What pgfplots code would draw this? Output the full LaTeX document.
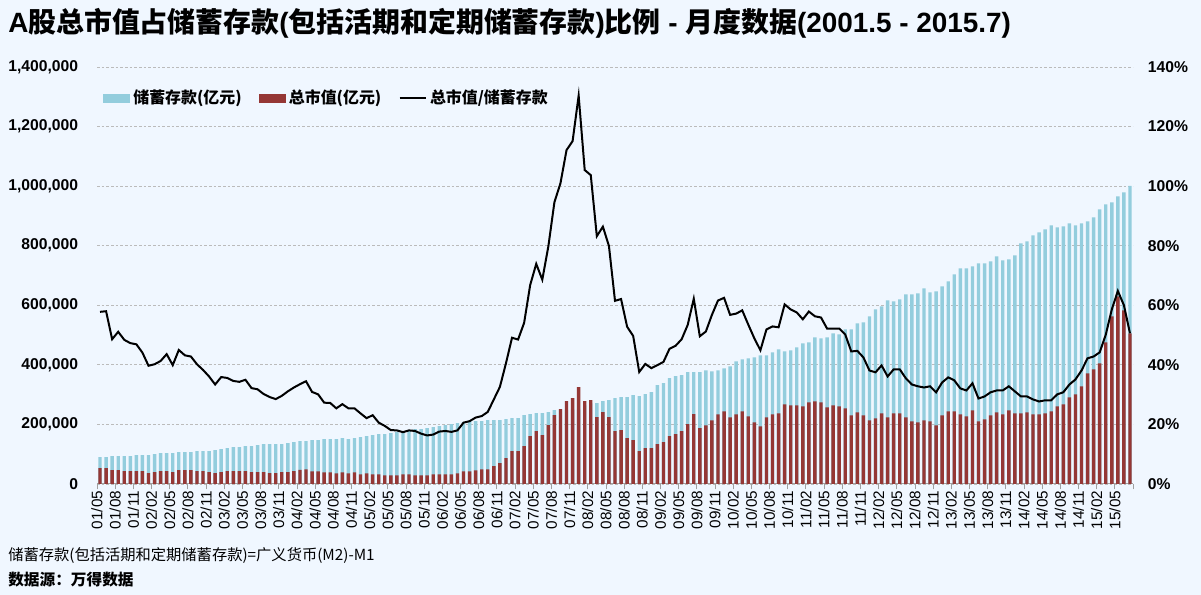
\documentclass[border=0pt]{standalone}
\usepackage{pgfplots}
\pgfplotsset{compat=1.18}
\usepackage{pgfplotstable}
\usepackage{fontspec}
\setmainfont{Liberation Sans}
\newfontfamily\cjk{Noto Sans CJK SC}
\definecolor{bgc}{HTML}{F0F7FF}
\definecolor{dep}{HTML}{93CDDD}
\definecolor{capc}{HTML}{953735}
\definecolor{gridc}{HTML}{BBBBBB}
\definecolor{axc}{HTML}{A0A0A0}

\pgfplotstableread{
i D C R
0 90500 53600 57.8
1 90500 53600 58.0
2 93800 46900 48.6
3 93800 46900 51.1
4 93800 43600 48.4
5 93800 43600 47.3
6 97200 43600 46.9
7 97200 43600 44.1
8 97200 36900 39.7
9 100500 40200 40.2
10 103900 43600 41.3
11 103900 43600 43.6
12 103900 40200 39.9
13 107200 46900 45.0
14 107200 46900 43.2
15 107200 46900 42.8
16 110600 43600 40.2
17 110600 43600 38.3
18 110600 40200 36.1
19 113900 36900 33.4
20 117300 40200 35.9
21 120600 43600 35.6
22 124000 43600 34.6
23 124000 43600 34.3
24 127300 43600 35.0
25 127300 40200 32.2
26 130700 40200 31.8
27 134000 40200 30.2
28 134000 36900 29.2
29 134000 36900 28.5
30 134000 40200 29.6
31 137400 40200 31.1
32 140700 43600 32.4
33 143900 47000 33.5
34 143900 49500 34.5
35 147300 42700 30.9
36 147300 42700 30.1
37 150600 39300 27.3
38 150600 39300 27.2
39 150600 36000 25.4
40 154000 39300 26.8
41 150600 36000 25.4
42 154000 39300 25.4
43 157400 32600 23.7
44 160700 36000 22.1
45 164100 32600 23.1
46 167500 32600 20.6
47 167500 29200 19.5
48 170800 29200 18.1
49 174200 29200 18.0
50 177600 32600 17.4
51 180900 32600 18.0
52 184300 29200 17.8
53 184300 29200 16.9
54 187700 29200 16.3
55 191100 32600 16.6
56 194400 32600 17.6
57 197800 32600 17.8
58 201200 32600 17.5
59 204500 36000 18.0
60 207900 42700 20.6
61 211300 42700 21.1
62 211300 46100 22.3
63 211300 49500 22.8
64 214700 49500 24.2
65 214700 59600 28.4
66 214700 69700 32.6
67 217800 86500 40.5
68 221200 110600 49.1
69 221200 110600 48.5
70 231200 127300 54.1
71 234600 160800 66.8
72 237900 177600 73.9
73 237900 164200 68.6
74 241300 197700 79.8
75 248000 231200 94.6
76 249000 251300 101.0
77 249000 278100 112.1
78 250000 288200 115.1
79 250000 325000 130.4
80 264000 278100 105.4
81 271000 281500 103.7
82 271400 224500 83.2
83 278100 241300 86.4
84 281500 224500 79.9
85 288200 177600 61.5
86 291500 181000 62.1
87 291500 154100 52.8
88 298200 147400 49.7
89 294900 110600 37.6
90 301600 120600 40.3
91 308300 120600 38.9
92 331700 134000 39.9
93 338400 140700 41.0
94 355200 160800 45.4
95 361900 167600 46.4
96 365300 177600 48.6
97 375300 201100 53.4
98 375300 234600 62.2
99 375300 187700 49.6
100 381600 197000 51.2
101 378300 213800 56.8
102 381600 233900 61.6
103 388300 244000 62.5
104 395000 223800 56.8
105 411900 233900 57.2
106 418600 244000 58.3
107 421900 227200 53.5
108 425300 207100 48.9
109 432000 193600 44.9
110 432000 223800 51.9
111 442100 233900 52.9
112 452200 237300 52.6
113 445400 267500 60.3
114 448800 264100 58.6
115 458900 264100 57.6
116 472300 260800 55.3
117 475700 274200 57.9
118 492400 277600 56.3
119 489100 274200 55.9
120 492400 257400 52.2
121 505900 264100 52.2
122 502500 260800 52.2
123 519300 254100 50.2
124 519300 230600 44.5
125 539500 240600 44.7
126 542800 230600 42.5
127 563000 213800 38.1
128 586500 220500 37.5
129 596500 237300 39.8
130 616700 223800 36.1
131 613300 237300 38.5
132 620000 237300 38.5
133 636800 223800 35.5
134 636800 210400 33.4
135 640200 207100 32.8
136 657000 213800 32.4
137 643500 210400 32.8
138 646900 197000 30.8
139 663700 230600 34.1
140 680500 244000 35.8
141 704000 244000 34.8
142 724100 233900 32.1
143 724100 227200 31.4
144 730800 247300 33.8
145 740900 210400 28.7
146 740900 217100 29.4
147 747600 230600 30.8
148 764400 240600 31.4
149 751000 233900 31.4
150 754300 247300 32.8
151 767800 237300 31.1
152 808100 237300 29.4
153 814800 240600 29.4
154 834900 233900 28.4
155 845000 233900 27.7
156 855100 237300 28.1
157 868500 244000 28.1
158 861800 260800 30.1
159 865100 267500 30.8
160 875200 291000 33.4
161 868500 301100 35.1
162 875200 327900 38.1
163 881900 371600 42.2
164 895400 385000 42.8
165 922200 405200 44.2
166 939000 475700 50.1
167 945700 563000 58.6
168 965900 630100 64.8
169 979300 583100 60.0
170 1000600 505900 50.6
}\datatable

\begin{document}
\begin{tikzpicture}
\fill[bgc] (0,0) rectangle (900.75bp,446.25bp);
\begin{axis}[
  at={(72.75bp,83.25bp)}, anchor=south west, scale only axis,
  width=777bp, height=312.75bp,
  xmin=-0.5, xmax=170.5, ymin=0, ymax=1400000,
  scaled y ticks=false,
  axis x line=bottom, axis y line=left, axis line style={-},
  x axis line style={draw=axc, line width=0.75bp},
  y axis line style={draw=none},
  xtick={-0.5,2.5,...,170.5},
  xticklabels={01/05,01/08,01/11,02/02,02/05,02/08,02/11,03/02,03/05,03/08,03/11,04/02,04/05,04/08,04/11,05/02,05/05,05/08,05/11,06/02,06/05,06/08,06/11,07/02,07/05,07/08,07/11,08/02,08/05,08/08,08/11,09/02,09/05,09/08,09/11,10/02,10/05,10/08,10/11,11/02,11/05,11/08,11/11,12/02,12/05,12/08,12/11,13/02,13/05,13/08,13/11,14/02,14/05,14/08,14/11,15/02,15/05,{}},
  xticklabel style={rotate=90, anchor=east, font=\fontsize{11.5}{12}\selectfont, inner sep=1bp},
  tick align=outside, major tick length=4bp,
  xtick style={draw=axc, line width=0.6bp},
  ytick style={draw=none},
  ytick={0,200000,400000,600000,800000,1000000,1200000,1400000},
  yticklabels={0,{200,000},{400,000},{600,000},{800,000},{1,000,000},{1,200,000},{1,400,000}},
  yticklabel style={font=\fontsize{11.8}{12}\selectfont\bfseries, inner sep=0pt, xshift=-10bp},
  ymajorgrids, grid style={gridc, dash pattern=on 2bp off 1.5bp, line width=0.6bp},
  ybar, bar width=2.55bp,
]
\addplot[fill=dep, draw=none, bar shift=0pt] table[x=i,y=D]{\datatable};
\addplot[fill=capc, draw=none, bar shift=0pt] table[x=i,y=C]{\datatable};
\end{axis}
\begin{axis}[
  at={(72.75bp,83.25bp)}, anchor=south west, scale only axis,
  width=777bp, height=312.75bp,
  xmin=-0.5, xmax=170.5, ymin=0, ymax=140,
  axis x line=none, axis y line*=right, axis line style={-},
  y axis line style={draw=none},
  ytick={0,20,...,140},
  yticklabels={0\%,20\%,40\%,60\%,80\%,100\%,120\%,140\%},
  ytick style={draw=none},
  yticklabel style={font=\fontsize{11.8}{12}\selectfont\bfseries, inner sep=0pt, xshift=11bp},
  legend style={at={(axis description cs:0.006,0.926)}, anchor=west, draw=none, fill=none,
    font=\fontsize{12}{14}\selectfont\cjk\bfseries, inner sep=0pt,
    /tikz/every even column/.append style={column sep=11bp},
    /tikz/every odd column/.append style={column sep=0.5bp}},
  legend columns=3,
]
\addlegendimage{legend image code/.code={\fill[dep] (0bp,-3bp) rectangle (19.5bp,3bp);}}
\addlegendentry{储蓄存款(亿元)}
\addlegendimage{legend image code/.code={\fill[capc] (0bp,-3bp) rectangle (19.5bp,3bp);}}
\addlegendentry{总市值(亿元)}
\addplot[black, line width=1.5bp, mark=none, legend image code/.code={\draw[black, line width=1.5bp] (0bp,0bp) -- (19.5bp,0bp);}] table[x=i,y=R]{\datatable};
\addlegendentry{总市值/储蓄存款}
\end{axis}
\begin{scope}[x=0.75bp, y=-0.75bp, shift={(0,-595)}]
\node[anchor=west, inner sep=0pt] at (8,23) {\fontsize{21}{21}\selectfont\bfseries A{\cjk 股总市值占储蓄存款}({\cjk 包括活期和定期储蓄存款}){\cjk 比例} - {\cjk 月度数据}(2001.5 - 2015.7)};
\node[anchor=west, inner sep=0pt] at (8,556) {\fontsize{11.5}{12}\selectfont\cjk 储蓄存款(包括活期和定期储蓄存款)=广义货币(M2)-M1};
\node[anchor=west, inner sep=0pt] at (8,580) {\fontsize{11.8}{12}\selectfont\cjk\bfseries 数据源：万得数据};
\end{scope}
\end{tikzpicture}
\end{document}
